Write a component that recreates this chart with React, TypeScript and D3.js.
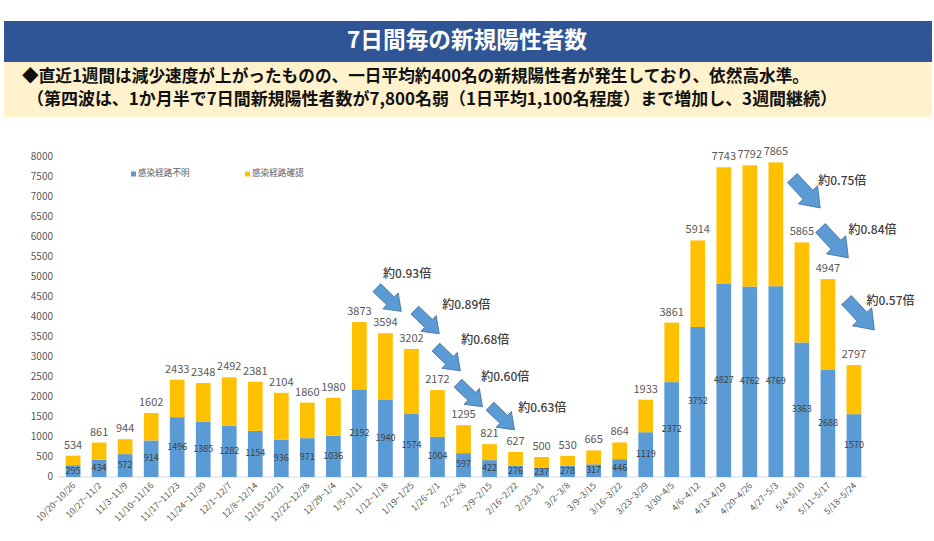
import React from 'react';
import * as d3 from 'd3';

const categories = [
  '10/20~10/26', '10/27~11/2', '11/3~11/9', '11/10~11/16', '11/17~11/23', '11/24~11/30',
  '12/1~12/7', '12/8~12/14', '12/15~12/21', '12/22~12/28', '12/29~1/4', '1/5~1/11',
  '1/12~1/18', '1/19~1/25', '1/26~2/1', '2/2~2/8', '2/9~2/15', '2/16~2/22', '2/23~3/1',
  '3/2~3/8', '3/9~3/15', '3/16~3/22', '3/23~3/29', '3/30~4/5', '4/6~4/12', '4/13~4/19',
  '4/20~4/26', '4/27~5/3', '5/4~5/10', '5/11~5/17', '5/18~5/24',
];

const totals = [
  534, 861, 944, 1602, 2433, 2348, 2492, 2381, 2104, 1860, 1980, 3873, 3594, 3202, 2172,
  1295, 821, 627, 500, 530, 665, 864, 1933, 3861, 5914, 7743, 7792, 7865, 5865, 4947, 2797,
];

// 感染経路不明
const unknownRoute = [
  295, 434, 572, 914, 1496, 1385, 1282, 1154, 936, 971, 1036, 2192, 1940, 1574, 1004,
  597, 422, 276, 237, 278, 317, 446, 1119, 2372, 3752, 4827, 4762, 4769, 3363, 2688, 1570,
];

const yTicks = [0, 500, 1000, 1500, 2000, 2500, 3000, 3500, 4000, 4500, 5000, 5500, 6000, 6500, 7000, 7500, 8000];

const seriesNames = ['感染経路不明', '感染経路確認'];

// ratio annotations: arrow centre and label position in (category index, value) space
const ratioLabels = ['約0.93倍', '約0.89倍', '約0.68倍', '約0.60倍', '約0.63倍', '約0.75倍', '約0.84倍', '約0.57倍'];
const arrowAt: [number, number][] = [
  [12.14, 4437], [13.6, 3875], [14.41, 2950], [15.26, 2050], [16.49, 1475],
  [28.17, 7100], [29.25, 5850], [30.25, 4050],
];
const labelAt: [number, number][] = [
  [11.91, 5050], [14.18, 4275], [14.91, 3400], [15.68, 2475], [17.1, 1700],
  [28.63, 7375], [29.79, 6150], [30.48, 4375],
];
const arrowSize = [1, 1, 1, 1, 1, 1.2, 1.2, 1.2];

const BLUE = '#5B9BD5';
const YELLOW = '#FFC000';
const FONT = '"Noto Sans CJK JP", "Noto Sans", sans-serif';

export default function App() {
  const W = 934;
  const H = 541;

  const x = d3.scaleBand<string>()
    .domain(categories)
    .range([60, 867])
    .paddingInner(0.435)
    .paddingOuter(0.22);

  const y = d3.scaleLinear().domain([0, 8000]).range([477, 157]);

  const bw = x.bandwidth();
  const cx = (c: string) => (x(c) || 0) + bw / 2;
  const xi = d3.scaleLinear()
    .domain([0, categories.length - 1])
    .range([cx(categories[0]), cx(categories[categories.length - 1])]);

  const arrowPath = (s: number) => {
    const L = 17 * s, hs = 5.5 * s, hh = 11 * s, neck = 2 * s;
    return `M${-L},${-hs} L${neck},${-hs} L${neck},${-hh} L${L},0 L${neck},${hh} L${neck},${hs} L${-L},${hs} Z`;
  };

  return (
    <svg width={W} height={H} style={{ position: 'absolute', left: 0, top: 0, background: '#fff' }}>
      {/* header */}
      <rect x={4} y={21} width={928} height={41} fill="#2F5597" />
      <text x={467} y={42} fill="#fff" fontFamily={FONT} fontWeight={700} fontSize={23}
        textAnchor="middle" dominantBaseline="middle" textLength={240} lengthAdjust="spacingAndGlyphs">
        7日間毎の新規陽性者数
      </text>
      <rect x={4} y={62} width={928} height={55} fill="#FFF2CC" />
      <text x={22} y={77} fill="#111" fontFamily={FONT} fontWeight={700} fontSize={17}
        dominantBaseline="middle" textLength={787} lengthAdjust="spacingAndGlyphs">
        ◆直近1週間は減少速度が上がったものの、一日平均約400名の新規陽性者が発生しており、依然高水準。
      </text>
      <text x={27} y={100} fill="#111" fontFamily={FONT} fontWeight={700} fontSize={17}
        dominantBaseline="middle" textLength={810} lengthAdjust="spacingAndGlyphs">
        （第四波は、1か月半で7日間新規陽性者数が7,800名弱（1日平均1,100名程度）まで増加し、3週間継続）
      </text>

      {/* y axis labels */}
      {yTicks.map(t => (
        <text key={t} x={53} y={y(t)} fill="#595959" fontFamily={FONT} fontSize={10}
          textAnchor="end" dominantBaseline="middle">{t}</text>
      ))}

      {/* legend */}
      {seriesNames.map((name, i) => {
        const lx = i === 0 ? 131 : 245;
        return (
          <g key={name}>
            <rect x={lx} y={171.5} width={5} height={5} fill={i === 0 ? BLUE : YELLOW} />
            <text x={lx + 7} y={174} fill="#595959" fontFamily={FONT} fontSize={8.6}
              dominantBaseline="middle">{name}</text>
          </g>
        );
      })}

      {/* x axis line */}
      <line x1={58} x2={867} y1={y(0)} y2={y(0)} stroke="#D9D9D9" strokeWidth={1} />

      {/* bars */}
      {categories.map((c, i) => {
        const u = unknownRoute[i];
        const t = totals[i];
        return (
          <g key={c}>
            <rect x={x(c)} y={y(u)} width={bw} height={y(0) - y(u)} fill={BLUE} />
            <rect x={x(c)} y={y(t)} width={bw} height={y(u) - y(t)} fill={YELLOW} />
            <text x={cx(c)} y={(y(0) + y(u)) / 2} fill="#404040" fontFamily={FONT} fontSize={9}
              textAnchor="middle" dominantBaseline="middle">{u}</text>
            <text x={cx(c)} y={y(t) - 7} fill="#595959" fontFamily={FONT} fontSize={11}
              textAnchor="middle">{t}</text>
            <text transform={`translate(${cx(c) + 3},${y(0) + 9}) rotate(-45)`} fill="#595959"
              fontFamily={FONT} fontSize={8.8} textAnchor="end">{c}</text>
          </g>
        );
      })}

      {/* ratio arrows */}
      {ratioLabels.map((lab, i) => {
        const [ai, av] = arrowAt[i];
        const [li, lv] = labelAt[i];
        return (
          <g key={lab + i}>
            <path d={arrowPath(arrowSize[i])}
              transform={`translate(${xi(ai)},${y(av)}) rotate(${i < 5 ? 44 : 47})`}
              fill={BLUE} stroke="#41719C" strokeWidth={0.8} />
            <text x={xi(li)} y={y(lv)} fill="#404040" fontFamily={FONT} fontSize={12} fontWeight={500}
              dominantBaseline="middle">{lab}</text>
          </g>
        );
      })}
    </svg>
  );
}
